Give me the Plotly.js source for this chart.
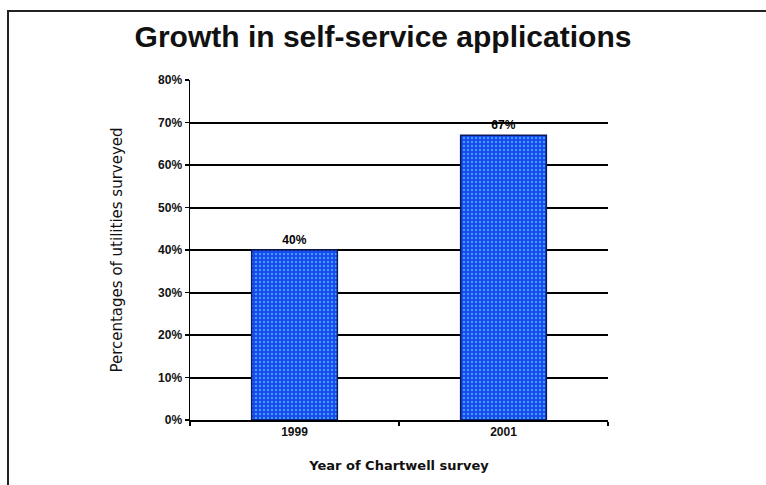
<!DOCTYPE html>
<html>
<head>
<meta charset="utf-8">
<script src="https://cdn.plot.ly/plotly-3.0.1.min.js"></script>
<style>
  html, body { margin: 0; padding: 0; background: #fff; }
  #chart { width: 766px; height: 485px; }
  #frame { position: absolute; left: 7px; top: 10px; width: 800px; height: 500px;
           border-left: 2px solid #222; border-top: 2px solid #222; pointer-events: none; }
</style>
</head>
<body>
<div id="chart"></div>
<div id="frame"></div>
<script>
const years = ['1999', '2001'];
const shares = [0.40, 0.67];
const barLabels = ['40%', '67%'];
const yTicks = [0, 0.1, 0.2, 0.3, 0.4, 0.5, 0.6, 0.7, 0.8];
const yTickText = ['0%', '10%', '20%', '30%', '40%', '50%', '60%', '70%', '80%'];
const gridTicks = [0.1, 0.2, 0.3, 0.4, 0.5, 0.6, 0.7];

const bar = {
  type: 'bar',
  x: years,
  y: shares,
  yaxis: 'y2',
  text: barLabels,
  textposition: 'outside',
  cliponaxis: false,
  textfont: { family: 'Arial, Liberation Sans, sans-serif', size: 12, color: '#000', weight: 'bold' },
  marker: {
    color: '#1a4cf0',
    line: { color: '#0a1a60', width: 1.5 },
    pattern: { shape: '.', bgcolor: '#1746ee', fgcolor: '#3f9cff', size: 4, solidity: 0.3, fillmode: 'replace' }
  },
  hoverinfo: 'skip'
};

const gridHelper = {
  type: 'scatter', x: years, y: [null, null], hoverinfo: 'skip', showlegend: false
};

const tickFont = { family: 'Arial, Liberation Sans, sans-serif', size: 12, color: '#111', weight: 'bold' };

const layout = {
  width: 766, height: 485,
  margin: { l: 190, r: 158, t: 80, b: 65 },
  paper_bgcolor: '#fff', plot_bgcolor: 'rgba(0,0,0,0)',
  showlegend: false,
  bargap: 0.59,
  title: {
    text: 'Growth in self-service applications',
    x: 0.5, xanchor: 'center', y: 0.925, yanchor: 'middle',
    font: { family: 'Arial, Liberation Sans, sans-serif', size: 30, color: '#111', weight: 'bold' }
  },
  xaxis: {
    type: 'category',
    showline: true, linecolor: '#000', linewidth: 2,
    ticks: 'outside', tickson: 'boundaries', ticklen: 4, tickcolor: '#000', tickwidth: 1.5,
    showgrid: false,
    tickfont: tickFont,
    title: { text: 'Year of Chartwell survey', standoff: 22,
             font: { family: 'Verdana, DejaVu Sans, sans-serif', size: 13, color: '#111', weight: 'bold' } }
  },
  yaxis: {
    range: [0, 0.8],
    tickvals: gridTicks, showticklabels: false, ticks: '',
    showgrid: true, gridcolor: '#000', gridwidth: 2,
    zeroline: false, showline: false
  },
  yaxis2: {
    overlaying: 'y', side: 'left', anchor: 'x',
    range: [0, 0.8],
    tickvals: yTicks, ticktext: yTickText,
    showline: true, linecolor: '#000', linewidth: 1.5,
    ticks: 'outside', ticklen: 4, tickcolor: '#000', tickwidth: 1.5,
    showgrid: false, zeroline: false,
    tickfont: tickFont,
    title: { text: 'Percentages of utilities surveyed', standoff: 32,
             font: { family: 'Verdana, DejaVu Sans, sans-serif', size: 15, color: '#111' } }
  }
};

Plotly.newPlot('chart', [gridHelper, bar], layout, { staticPlot: true, displayModeBar: false });
</script>
</body>
</html>
